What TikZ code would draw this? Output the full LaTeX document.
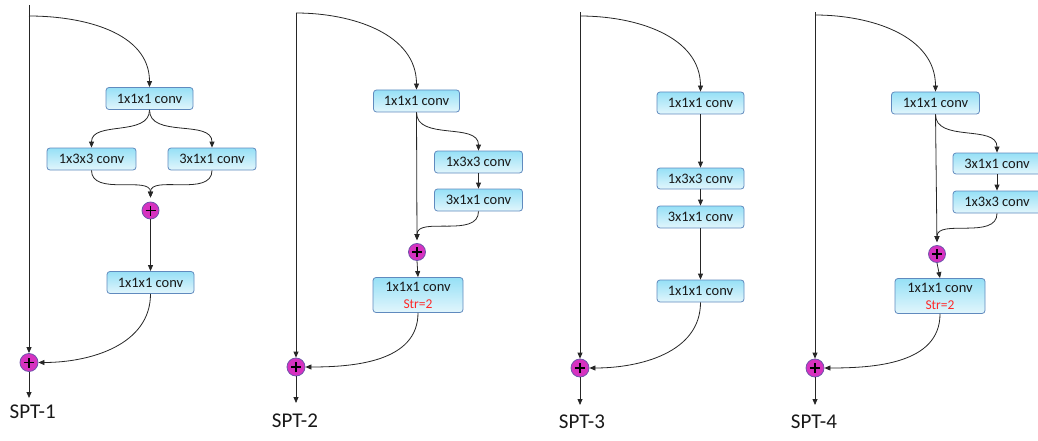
\documentclass[tikz,border=0pt]{standalone}
\usepackage{fontspec}
\setmainfont{Carlito}
\usetikzlibrary{arrows.meta}
\definecolor{boxtop}{RGB}{150,224,246}
\definecolor{boxbot}{RGB}{226,246,252}
\definecolor{boxline}{RGB}{96,138,190}
\definecolor{sumfill}{RGB}{214,50,192}
\definecolor{sumline}{RGB}{112,84,172}
\definecolor{wire}{RGB}{38,38,38}
\definecolor{strred}{RGB}{255,40,40}
\newcommand{\stridetext}[1]{{\color{strred}\fontsize{13.5}{16}\selectfont #1}}
\tikzset{
  layer/.style={draw=boxline, line width=0.8pt, rounded corners=3pt,
    top color=boxtop, bottom color=boxbot, inner sep=0pt,
    minimum width=87pt, minimum height=22pt, text=black!90,
    font=\fontsize{14.5}{18}\selectfont, align=center},
  tall/.style={layer, minimum width=90pt, minimum height=35pt},
  sum/.style={circle, draw=sumline, line width=0.8pt, fill=sumfill,
    minimum size=17pt, inner sep=0pt,
    path picture={
      \draw[black, line width=1.1pt]
        ([xshift=-5pt]path picture bounding box.center) -- ([xshift=5pt]path picture bounding box.center)
        ([yshift=-5pt]path picture bounding box.center) -- ([yshift=5pt]path picture bounding box.center);}},
  flow/.style={draw=wire, line width=0.8pt, -{Triangle[length=6pt,width=5pt]}},
  title/.style={font=\fontsize{21}{24}\selectfont, anchor=base, text=black!90},
}
\begin{document}
\begin{tikzpicture}[x=1pt,y=1pt]
\useasboundingbox (0,0) rectangle (1038,-441);
\clip (0,0) rectangle (1038,-441);

% ---------------- SPT-1 ----------------
\coordinate (t1) at (29,-5);
\coordinate (b1) at (29,-16);
\coordinate (e1) at (29,-398);
\node[layer] (a1) at (149.5,-98.5) {1x1x1 conv};
\node[layer, minimum width=89pt] (p1) at (91.5,-159) {1x3x3 conv};
\node[layer, minimum width=88pt] (q1) at (212,-159) {3x1x1 conv};
\node[sum] (s1) at (150.5,-210.5) {};
\node[layer] (d1) at (150.5,-282.5) {1x1x1 conv};
\node[sum, minimum size=18pt] (o1) at (29,-362.5) {};
\node[title] at (32.7,-418) {SPT-1};
\draw[flow] (t1) -- (o1.north);
\draw[flow] (b1) to[out=0,in=90] (a1.north);
\draw[flow] (a1.south) to[out=-90,in=90] (p1.north);
\draw[flow] (a1.south) to[out=-90,in=90] (q1.north);
\draw[flow, shorten >=4pt] (p1.south) to[out=-90,in=90] (s1.north);
\draw[flow, shorten >=4pt] (q1.south) to[out=-90,in=90] (s1.north);
\draw[flow] (s1.south) -- (d1.north);
\draw[flow] (d1.south) to[out=-90,in=0] (o1.east);
\draw[flow] (o1.south) -- (e1);

% ---------------- SPT-2 ----------------
\coordinate (t2) at (296,-13);
\coordinate (e2) at (296,-403);
\node[layer, minimum width=86pt] (a2) at (416.5,-101) {1x1x1 conv};
\node[layer, minimum width=88pt] (p2) at (478.5,-162) {1x3x3 conv};
\node[layer, minimum width=88pt] (q2) at (478.5,-200) {3x1x1 conv};
\node[sum] (s2) at (417,-252) {};
\node[tall] (d2) at (418,-295) {1x1x1 conv\\[-1pt]\stridetext{Str=2}};
\node[sum, minimum size=18pt] (o2) at (296,-367) {};
\node[title] at (295,-427) {SPT-2};
\draw[flow] (t2) -- (o2.north);
\draw[flow] (t2) to[out=0,in=90] (a2.north);
\draw[flow] (a2.south) to[out=-90,in=90] (p2.north);
\draw[flow] (p2.south) -- (q2.north);
\draw[flow, shorten >=3pt] (a2.south) -- (s2.north);
\draw[flow, shorten >=3pt] (q2.south) to[out=-90,in=90] (s2.north);
\draw[flow] (s2.south) -- (d2.north);
\draw[flow] (d2.south) to[out=-90,in=0] (o2.east);
\draw[flow] (o2.south) -- (e2);

% ---------------- SPT-3 ----------------
\coordinate (t3) at (580,-12);
\coordinate (b3) at (580,-16);
\coordinate (e3) at (580,-405);
\node[layer] (a3) at (700.5,-103) {1x1x1 conv};
\node[layer, minimum height=21pt] (p3) at (700.5,-178.5) {1x3x3 conv};
\node[layer] (q3) at (700.5,-217) {3x1x1 conv};
\node[layer] (d3) at (700.5,-291) {1x1x1 conv};
\node[sum, minimum size=18pt] (o3) at (580,-368) {};
\node[title] at (582,-428) {SPT-3};
\draw[flow] (t3) -- (o3.north);
\draw[flow] (b3) to[out=0,in=90] (a3.north);
\draw[flow] (a3.south) -- (p3.north);
\draw[flow] (p3.south) -- (q3.north);
\draw[flow] (q3.south) -- (d3.north);
\draw[flow] (d3.south) to[out=-90,in=0] (o3.east);
\draw[flow] (o3.south) -- (e3);

% ---------------- SPT-4 ----------------
\coordinate (t4) at (815,-12);
\coordinate (b4) at (815,-15);
\coordinate (e4) at (815,-405);
\node[layer, minimum width=88pt] (a4) at (935.5,-103) {1x1x1 conv};
\node[layer, minimum width=88pt, minimum height=21pt] (p4) at (997,-163.5) {3x1x1 conv};
\node[layer, minimum width=88pt] (q4) at (997,-202) {1x3x3 conv};
\node[sum] (s4) at (937,-254) {};
\node[tall] (d4) at (940,-296) {1x1x1 conv\\[-1pt]\stridetext{Str=2}};
\node[sum, minimum size=18pt] (o4) at (815,-368) {};
\node[title] at (814,-428) {SPT-4};
\draw[flow] (t4) -- (o4.north);
\draw[flow] (b4) to[out=0,in=90] (a4.north);
\draw[flow] (a4.south) to[out=-90,in=90] (p4.north);
\draw[flow] (p4.south) -- (q4.north);
\draw[flow, shorten >=3pt] (a4.south) -- (s4.north);
\draw[flow, shorten >=3pt] (q4.south) to[out=-90,in=90] (s4.north);
\draw[flow] (s4.south) -- (d4.north);
\draw[flow] (d4.south) to[out=-90,in=0] (o4.east);
\draw[flow] (o4.south) -- (e4);
\end{tikzpicture}
\end{document}
